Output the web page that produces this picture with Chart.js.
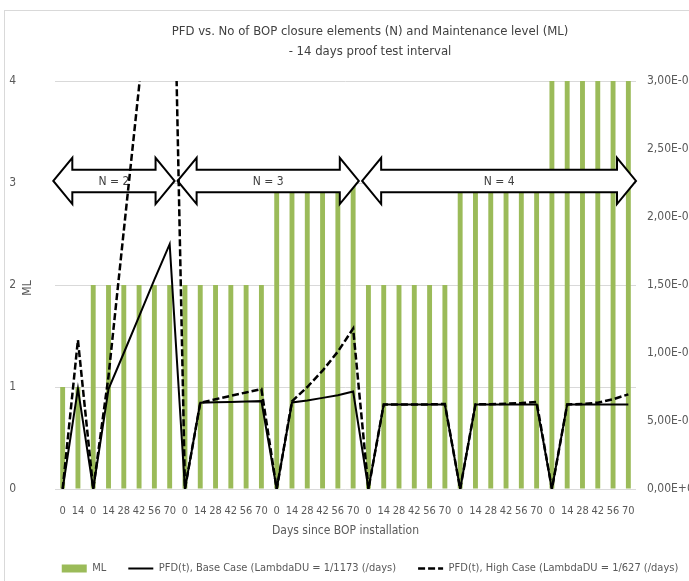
<!DOCTYPE html>
<html>
<head>
<meta charset="utf-8">
<script src="https://cdn.jsdelivr.net/npm/chart.js@4.4.1/dist/chart.umd.min.js"></script>
<style>
    html, body { margin: 0; padding: 0; background: #fff; overflow: hidden; }
    #frame { position: absolute; left: 4px; top: 10px; width: 760px; height: 620px; border: 1px solid #d9d9d9; }
    #wrap { position: absolute; left: 0; top: 0; width: 740px; height: 584px; }
</style>
</head>
<body>
<div id="frame"></div>
<div id="wrap"><canvas id="pfdChart"></canvas></div>
<script>
// x categories: days since BOP installation
const dayLabels = [
    '0', '14',
    '0', '14', '28', '42', '56', '70',
    '0', '14', '28', '42', '56', '70',
    '0', '14', '28', '42', '56', '70',
    '0', '14', '28', '42', '56', '70',
    '0', '14', '28', '42', '56', '70',
    '0', '14', '28', '42', '56', '70'
];

// Maintenance level per bar
const mlValues = [
    1, 1,
    2, 2, 2, 2, 2, 2,
    2, 2, 2, 2, 2, 2,
    3, 3, 3, 3, 3, 3,
    2, 2, 2, 2, 2, 2,
    3, 3, 3, 3, 3, 3,
    4, 4, 4, 4, 4, 4
];

// PFD(t), base case (LambdaDU = 1/1173)
const pfdBase = [
    0, 7.38e-4,
    0, 7.35e-4, 1.00e-3, 1.27e-3, 1.54e-3, 1.80e-3,
    0, 6.34e-4, 6.37e-4, 6.40e-4, 6.43e-4, 6.46e-4,
    0, 6.36e-4, 6.50e-4, 6.70e-4, 6.90e-4, 7.17e-4,
    0, 6.22e-4, 6.22e-4, 6.22e-4, 6.22e-4, 6.22e-4,
    0, 6.22e-4, 6.22e-4, 6.22e-4, 6.22e-4, 6.22e-4,
    0, 6.22e-4, 6.22e-4, 6.22e-4, 6.22e-4, 6.22e-4
];

// PFD(t), high case (LambdaDU = 1/627)
const pfdHigh = [
    0, 1.096e-3,
    0, 8.30e-4, 1.90e-3, 2.96e-3, 4.20e-3, 5.50e-3,
    0, 6.34e-4, 6.60e-4, 6.85e-4, 7.10e-4, 7.35e-4,
    0, 6.45e-4, 7.50e-4, 8.70e-4, 1.01e-3, 1.18e-3,
    0, 6.22e-4, 6.22e-4, 6.22e-4, 6.22e-4, 6.25e-4,
    0, 6.22e-4, 6.24e-4, 6.27e-4, 6.32e-4, 6.40e-4,
    0, 6.22e-4, 6.25e-4, 6.35e-4, 6.60e-4, 6.96e-4
];

// N = closure elements, spans in category index units
const nArrows = [
    { from: -0.61, to: 7.32, text: 'N = 2' },
    { from: 7.52, to: 19.37, text: 'N = 3' },
    { from: 19.59, to: 37.5, text: 'N = 4' }
];

const FONT = "'Liberation Sans Narrow', 'DejaVu Sans Condensed', 'Open Sans', sans-serif";
Chart.defaults.font.family = FONT;
Chart.defaults.color = '#595959';

// 0.0015 -> "1,50E-03"
function sciComma(v) {
    const parts = Number(v).toExponential(2).split('e');
    const exp = parseInt(parts[1], 10);
    return parts[0].replace('.', ',') + 'E' + (exp < 0 ? '-' : '+') + String(Math.abs(exp)).padStart(2, '0');
}

// block arrows go above the bars but under the lines
const arrowPlugin = {
    id: 'nArrows',
    afterDatasetDraw(chart, args) {
        if (args.index !== 0) return;
        const ctx = chart.ctx;
        const xs = chart.scales.x;
        const ys = chart.scales.y;
        const yc = ys.getPixelForValue(3.02);
        const headH = ys.getPixelForValue(0) - ys.getPixelForValue(0.226);
        const shaftH = ys.getPixelForValue(0) - ys.getPixelForValue(0.11);
        const headL = 19;
        ctx.save();
        nArrows.forEach(a => {
            const x0 = xs.getPixelForValue(a.from);
            const x1 = xs.getPixelForValue(a.to);
            ctx.beginPath();
            ctx.moveTo(x0, yc);
            ctx.lineTo(x0 + headL, yc - headH);
            ctx.lineTo(x0 + headL, yc - shaftH);
            ctx.lineTo(x1 - headL, yc - shaftH);
            ctx.lineTo(x1 - headL, yc - headH);
            ctx.lineTo(x1, yc);
            ctx.lineTo(x1 - headL, yc + headH);
            ctx.lineTo(x1 - headL, yc + shaftH);
            ctx.lineTo(x0 + headL, yc + shaftH);
            ctx.lineTo(x0 + headL, yc + headH);
            ctx.closePath();
            ctx.fillStyle = '#ffffff';
            ctx.fill();
            ctx.lineWidth = 2;
            ctx.strokeStyle = '#000000';
            ctx.lineJoin = 'miter';
            ctx.stroke();
            ctx.fillStyle = '#404040';
            ctx.font = '12px ' + FONT;
            ctx.textAlign = 'center';
            ctx.textBaseline = 'middle';
            ctx.fillText(a.text, (x0 + x1) / 2, yc + 1);
        });
        ctx.restore();
    },
    afterDraw(chart) {
        // "ML" axis title sits between tick labels and plot, like Excel
        const ctx = chart.ctx;
        const area = chart.chartArea;
        ctx.save();
        ctx.translate(area.left - 27, (area.top + area.bottom) / 2 + 3);
        ctx.rotate(-Math.PI / 2);
        ctx.fillStyle = '#595959';
        ctx.font = '12px ' + FONT;
        ctx.textAlign = 'center';
        ctx.textBaseline = 'middle';
        ctx.fillText('ML', 0, 0);
        ctx.restore();
    }
};

new Chart(document.getElementById('pfdChart'), {
    type: 'bar',
    data: {
        labels: dayLabels,
        datasets: [
            {
                label: 'ML',
                data: mlValues,
                yAxisID: 'y',
                backgroundColor: '#9bbb59',
                borderWidth: 0,
                barPercentage: 0.32,
                categoryPercentage: 1,
                pointStyle: 'rect',
                order: 2
            },
            {
                type: 'line',
                label: 'PFD(t), Base Case (LambdaDU = 1/1173 (/days)',
                data: pfdBase,
                yAxisID: 'y2',
                borderColor: '#000000',
                backgroundColor: '#000000',
                borderWidth: 2,
                pointRadius: 0,
                tension: 0,
                pointStyle: 'line',
                order: 1
            },
            {
                type: 'line',
                label: 'PFD(t), High Case (LambdaDU = 1/627 (/days)',
                data: pfdHigh,
                yAxisID: 'y2',
                borderColor: '#000000',
                backgroundColor: '#000000',
                borderWidth: 2.5,
                borderDash: [7, 3],
                pointRadius: 0,
                tension: 0,
                pointStyle: 'line',
                order: 1
            }
        ]
    },
    options: {
        responsive: true,
        maintainAspectRatio: false,
        animation: false,
        layout: { padding: { top: 0, bottom: 0, left: 0, right: 0 } },
        plugins: {
            title: {
                display: true,
                text: ['PFD vs. No of BOP closure elements (N) and Maintenance level (ML)', '- 14 days proof test interval'],
                color: '#404040',
                font: { size: 13, weight: 'normal', lineHeight: '20px' },
                padding: { top: 22, bottom: 19 }
            },
            legend: {
                position: 'bottom',
                labels: {
                    usePointStyle: true,
                    pointStyleWidth: 25,
                    boxHeight: 8,
                    padding: 22,
                    color: '#595959',
                    font: { size: 11 },
                    sort: (a, b) => a.datasetIndex - b.datasetIndex,
                    generateLabels(chart) {
                        const items = Chart.defaults.plugins.legend.labels.generateLabels(chart);
                        items.forEach(item => {
                            const ds = chart.data.datasets[item.datasetIndex];
                            item.lineDash = ds.borderDash || [];
                            item.lineWidth = ds.type === 'line' ? ds.borderWidth : 0;
                        });
                        return items;
                    }
                }
            },
            tooltip: { enabled: false }
        },
        scales: {
            x: {
                grid: { display: false },
                border: { display: false },
                ticks: { autoSkip: false, maxRotation: 0, padding: 8, font: { size: 11 }, color: '#595959' },
                title: {
                    display: true,
                    text: 'Days since BOP installation',
                    color: '#595959',
                    font: { size: 12 },
                    padding: { top: 0, bottom: 3 }
                },
                afterFit(scale) { scale.height = 52; }
            },
            y: {
                position: 'left',
                min: 0,
                max: 4,
                ticks: { stepSize: 1, padding: 39, font: { size: 12 }, color: '#595959' },
                grid: { color: '#d9d9d9', drawTicks: false },
                border: { display: false },
                afterFit(scale) { scale.width = 55; }
            },
            y2: {
                position: 'right',
                min: 0,
                max: 0.003,
                ticks: { stepSize: 0.0005, padding: 11, font: { size: 12 }, color: '#595959', callback: v => sciComma(v) },
                grid: { display: false, drawTicks: false },
                border: { display: false },
                afterFit(scale) { scale.width = 104; }
            }
        }
    },
    plugins: [arrowPlugin]
});
</script>
</body>
</html>
